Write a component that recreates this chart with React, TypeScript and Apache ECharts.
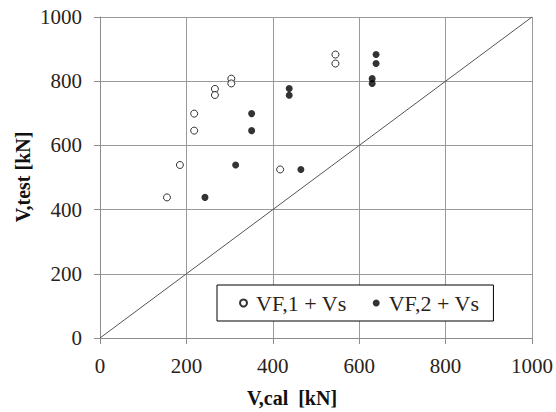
import React, { useEffect, useRef } from "react";
import * as echarts from "echarts";

const vf1X = [545, 545, 304, 304, 266, 266, 218, 218, 185, 155, 417];
const vf1Y = [883, 855, 808, 793, 776, 757, 699, 646, 539, 438, 525];
const vf2X = [351, 351, 314, 243, 438, 438, 465, 639, 639, 630, 630];
const vf2Y = [699, 646, 539, 438, 777, 756, 525, 883, 855, 808, 793];
const refLine = [0, 1000];
const seriesNames = ["VF,1 + Vs", "VF,2 + Vs"];
const xTitle = "V,cal  [kN]";
const yTitle = "V,test [kN]";

const FONT = "'Liberation Serif', 'DejaVu Serif', serif";

export default function App() {
  const ref = useRef<HTMLDivElement>(null);
  useEffect(() => {
    if (!ref.current) return;
    const chart = echarts.init(ref.current, undefined, { renderer: "svg" });
    const axisCommon = {
      type: "value" as const,
      min: 0,
      max: 1000,
      interval: 200,
      axisLine: { show: true, lineStyle: { color: "#8c8c8c", width: 1 } },
      axisTick: { show: true, inside: false, length: 6, lineStyle: { color: "#8c8c8c" } },
      splitLine: { show: true, lineStyle: { color: "#9a9a9a", width: 1 } },
      axisLabel: {
        color: "#2a2218",
        fontFamily: FONT,
        fontSize: 21,
        formatter: (v: number) => String(v),
      },
    };
    chart.setOption({
      animation: false,
      backgroundColor: "#fff",
      grid: { left: 100, top: 17, right: 23, bottom: 74 },
      xAxis: { ...axisCommon, axisLabel: { ...axisCommon.axisLabel, margin: 17 } },
      yAxis: { ...axisCommon, axisLabel: { ...axisCommon.axisLabel, margin: 18 } },
      legend: {
        data: seriesNames,
        left: 217,
        top: 285,
        padding: [7, 14, 7, 22],
        backgroundColor: "#fff",
        borderColor: "#000",
        borderWidth: 1,
        borderRadius: 0,
        itemWidth: 7,
        itemHeight: 7,
        itemGap: 26,
        icon: "circle",
        textStyle: { color: "#2a2218", fontFamily: FONT, fontSize: 22, padding: [0, 0, 0, 4] },
      },
      graphic: [
        {
          type: "text",
          x: 292,
          y: 398,
          style: {
            text: xTitle,
            font: `bold 20px ${FONT}`,
            fill: "#111",
            align: "center",
            verticalAlign: "middle",
          },
        },
        {
          type: "text",
          x: 23,
          y: 177,
          rotation: Math.PI / 2,
          style: {
            text: yTitle,
            font: `bold 20px ${FONT}`,
            fill: "#111",
            align: "center",
            verticalAlign: "middle",
          },
        },
      ],
      series: [
        {
          type: "line",
          data: refLine.map((v) => [v, v]),
          showSymbol: false,
          symbol: "none",
          lineStyle: { color: "#555", width: 1 },
          silent: true,
          z: 1,
        },
        {
          name: seriesNames[0],
          type: "scatter",
          data: vf1X.map((x, i) => [x, vf1Y[i]]),
          symbol: "circle",
          symbolSize: 7,
          itemStyle: { color: "#fff", borderColor: "#000", borderWidth: 1 },
          z: 3,
        },
        {
          name: seriesNames[1],
          type: "scatter",
          data: vf2X.map((x, i) => [x, vf2Y[i]]),
          symbol: "circle",
          symbolSize: 7,
          itemStyle: { color: "#000" },
          z: 3,
        },
      ],
    });
    return () => chart.dispose();
  }, []);
  return <div ref={ref} style={{ width: 556, height: 412, position: "absolute", left: 0, top: 0 }} />;
}
